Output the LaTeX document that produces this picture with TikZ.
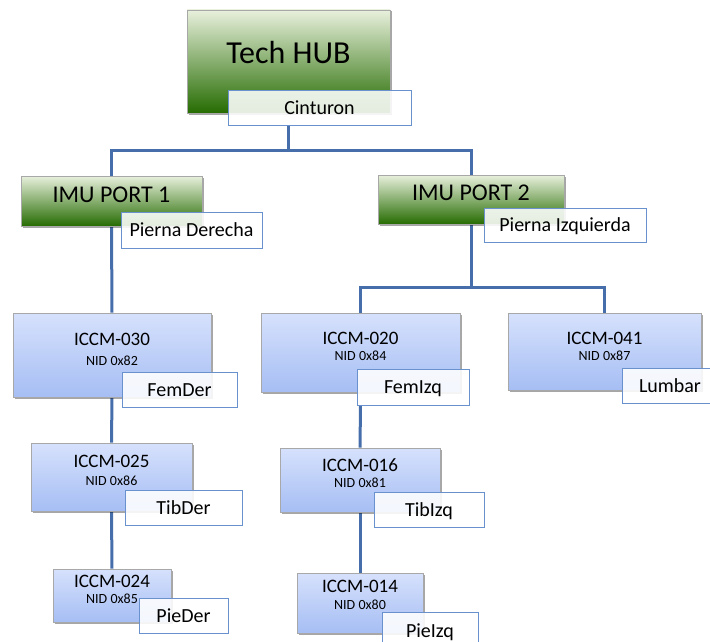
\documentclass[tikz,border=0pt]{standalone}
\usepackage{fontspec}
\setmainfont[FakeBold=0.35,AutoFakeBold=0]{Carlito}
\usetikzlibrary{shadows,backgrounds}

\definecolor{wire}{RGB}{70,110,170}
\definecolor{boxedge}{RGB}{168,168,168}
\definecolor{tagedge}{RGB}{105,145,205}
\definecolor{gtop}{RGB}{232,240,220}
\definecolor{gmid}{RGB}{145,188,88}
\definecolor{gbot}{RGB}{38,108,2}
\definecolor{btop}{RGB}{214,225,252}
\definecolor{bbot}{RGB}{166,190,244}

\begin{document}
\begin{tikzpicture}[x=1pt,y=-1pt,
  sz/.style 2 args={minimum width=#1pt, minimum height=#2pt},
  shade/.style={drop shadow={shadow xshift=1.5pt, shadow yshift=-1.5pt, opacity=0.35, fill=black}},
  greenbox/.style={draw=boxedge, line width=0.6pt, inner sep=0pt, shade,
    top color=gtop, middle color=gmid, bottom color=gbot},
  bluebox/.style={draw=boxedge, line width=0.6pt, inner sep=0pt, shade,
    top color=btop, bottom color=bbot},
  tag/.style={draw=tagedge, line width=0.9pt, fill=white, fill opacity=0.88, text opacity=1,
    inner sep=0pt, font=\fontsize{20}{24}\bfseries, text height=13pt, text depth=0pt},
  title/.style={anchor=base, inner sep=0pt},
  hubfont/.style={font=\fontsize{32}{38}\bfseries},
  portfont/.style={font=\fontsize{24}{28}\bfseries},
  idfont/.style={font=\fontsize{19}{23}\bfseries},
  nidfont/.style={font=\fontsize{14}{17}\bfseries},
  wireline/.style={draw=wire, line width=3pt}
]
\useasboundingbox (0,0) rectangle (710,642);

% hub
\node[greenbox, sz={203}{103}] (hub) at (288.5,61.5) {};
\node[title, hubfont] (hubt) at (288.5,64) {Tech HUB};
\node[tag, sz={183}{35}] (cint) at (319.5,107.5) {Cinturon};

% ports
\node[greenbox, sz={181}{50}] (p1) at (111.5,201) {};
\node[title, portfont] (p1t) at (111.5,202) {IMU PORT 1};
\node[tag, sz={141}{36}] (pder) at (191.5,230) {Pierna Derecha};

\node[greenbox, sz={186}{49}] (p2) at (471,199.5) {};
\node[title, portfont] (p2t) at (471,200) {IMU PORT 2};
\node[tag, sz={162}{34}] (pizq) at (565,225) {Pierna Izquierda};

% right leg chain
\node[bluebox, sz={198}{84}] (c030) at (112,355) {};
\node[title, idfont] (c030a) at (112,345) {ICCM-030};
\node[title, nidfont] (c030b) at (112,365) {NID 0x82};
\node[tag, sz={115}{35}] (femder) at (179.5,389.5) {FemDer};

\node[bluebox, sz={161}{68}] (c025) at (111.5,477) {};
\node[title, idfont] (c025a) at (111.5,467) {ICCM-025};
\node[title, nidfont] (c025b) at (111.5,485) {NID 0x86};
\node[tag, sz={117}{35}] (tibder) at (183.5,507.5) {TibDer};

\node[bluebox, sz={118}{53}] (c024) at (112,595.5) {};
\node[title, idfont] (c024a) at (112,587) {ICCM-024};
\node[title, nidfont] (c024b) at (112,603) {NID 0x85};
\node[tag, sz={89}{35}] (pieder) at (183.5,615.5) {PieDer};

% left leg chain and lumbar
\node[bluebox, sz={199}{79}] (c020) at (360.5,352.5) {};
\node[title, idfont] (c020a) at (360.5,344) {ICCM-020};
\node[title, nidfont] (c020b) at (360.5,360) {NID 0x84};
\node[tag, sz={112}{36}] (femizq) at (413,387) {FemIzq};

\node[bluebox, sz={193}{77}] (c041) at (604.5,351.5) {};
\node[title, idfont] (c041a) at (604.5,344) {ICCM-041};
\node[title, nidfont] (c041b) at (604.5,360) {NID 0x87};
\node[tag, sz={96}{35}] (lumbar) at (670,385.5) {Lumbar};

\node[bluebox, sz={160}{64}] (c016) at (360,480) {};
\node[title, idfont] (c016a) at (360,471) {ICCM-016};
\node[title, nidfont] (c016b) at (360,487) {NID 0x81};
\node[tag, sz={110}{35}] (tibizq) at (429,509.5) {TibIzq};

\node[bluebox, sz={126}{60}] (c014) at (360,603) {};
\node[title, idfont] (c014a) at (360,592) {ICCM-014};
\node[title, nidfont] (c014b) at (360,609) {NID 0x80};
\node[tag, sz={96}{38}] (pieizq) at (430,631) {PieIzq};

% wiring
\begin{scope}[on background layer]
  \draw[wireline] (hub.south |- cint.south) -- ++(0,25) -| (p1.north);
  \draw[wireline] (hub.south |- cint.south) -- ++(0,25) -| (p2.north);
  \draw[wireline] (p1.south) -- (c030.north);
  \draw[wireline] (c030.south) -- (c025.north);
  \draw[wireline] (c025.south) -- (c024.north);
  \draw[wireline] (p2.south) -- ++(0,63) -| (c020.north);
  \draw[wireline] (p2.south) -- ++(0,63) -| (c041.north);
  \draw[wireline] (c020.south |- femizq.south) -- (c016.north);
  \draw[wireline] (c016.south) -- (c014.north);
\end{scope}
\end{tikzpicture}
\end{document}
